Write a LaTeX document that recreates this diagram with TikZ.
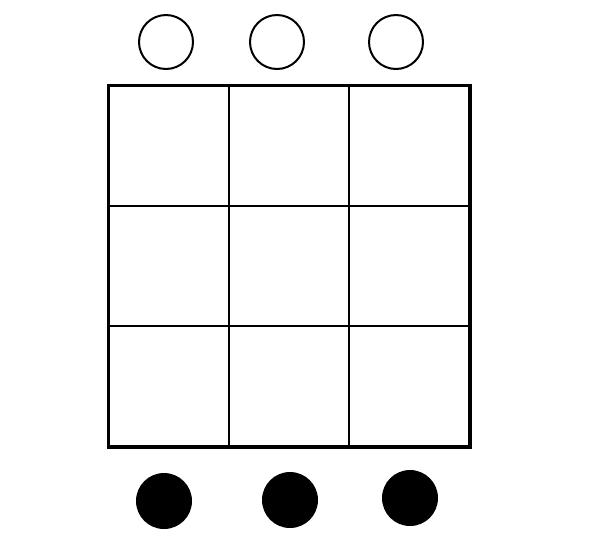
\documentclass[tikz,border=0pt]{standalone}
\usepackage{tikz}

\tikzset{
    cellbox/.style={draw, line width=1pt, minimum size=60pt, inner sep=0},
    openstone/.style={draw, circle, line width=1pt, minimum size=27pt, inner sep=0},
    fullstone/.style={fill=black, circle, minimum size=28pt, inner sep=0}
}

\begin{document}
\begin{tikzpicture}[x=0.5pt, y=-0.5pt]
    \useasboundingbox (0,0) rectangle (600,542);

    % grid of cells
    \foreach \row in {0,1,2} {
        \foreach \col in {0,1,2} {
            \node[cellbox] (cell-\row-\col) at (169+120*\col, 146+120*\row) {};
        }
    }
    \draw[line width=1.5pt] (cell-0-0.north west) rectangle (cell-2-2.south east);

    % stones above and below
    \node[openstone] (top-a) at (166,42) {};
    \node[openstone] (top-b) at (277,42) {};
    \node[openstone] (top-c) at (396,42) {};

    \node[fullstone] (bot-a) at (164,501) {};
    \node[fullstone] (bot-b) at (290,500) {};
    \node[fullstone] (bot-c) at (410,498) {};
\end{tikzpicture}
\end{document}
